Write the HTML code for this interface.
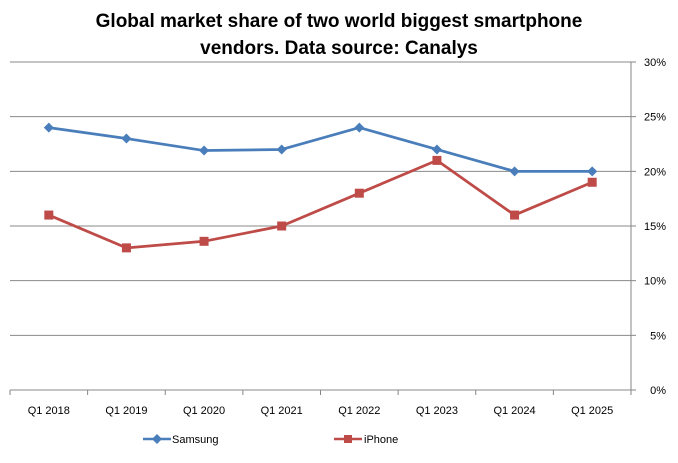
<!DOCTYPE html>
<html><head><meta charset="utf-8"><style>
body{margin:0;background:#fff;}
svg text{font-family:"Liberation Sans",sans-serif;}
</style></head><body>
<svg width="678" height="458">
<rect width="678" height="458" fill="#fff"/>
<text x="339" y="27" text-anchor="middle" font-size="19" font-weight="bold">Global market share of two world biggest smartphone</text>
<text x="339" y="54" text-anchor="middle" font-size="19" font-weight="bold">vendors. Data source: Canalys</text>
<g id="grid"></g><g id="axes"></g><g id="series"></g>
<g>
<line x1="143" y1="439" x2="171" y2="439" stroke="#4A7EBB" stroke-width="2.5"/>
<path d="M157 434 L162 439 L157 444 L152 439Z" fill="#4A7EBB"/>
<text x="172" y="443" font-size="11">Samsung</text>
<line x1="334" y1="439" x2="362" y2="439" stroke="#BE4B48" stroke-width="2.5"/>
<rect x="344" y="435" width="8" height="8" fill="#BE4B48"/>
<text x="364" y="443" font-size="11">iPhone</text>
</g>
</svg>
<script>
const categories=["Q1 2018","Q1 2019","Q1 2020","Q1 2021","Q1 2022","Q1 2023","Q1 2024","Q1 2025"];
const samsung=[24,23,21.9,22,24,22,20,20];
const iphone=[16,13,13.6,15,18,21,16,19];
const yTicks=[0,5,10,15,20,25,30];
const NS="http://www.w3.org/2000/svg";
const L=10,R=631,T=62,B=390;
const step=(R-L)/categories.length;
const x=i=>L+step*(i+0.5);
const y=v=>B-(v/30)*(B-T);
function mk(t,a,p){const e=document.createElementNS(NS,t);for(const k in a)e.setAttribute(k,a[k]);p.appendChild(e);return e;}
const grid=document.getElementById('grid'),axes=document.getElementById('axes'),ser=document.getElementById('series');
yTicks.forEach(v=>{
 const g=mk('line',{x1:L,x2:R,y1:y(v),y2:y(v),stroke:'#8a8a8a','stroke-width':1},grid);
 
 
 mk('line',{x1:R,x2:R+5,y1:y(v),y2:y(v),stroke:'#868686'},axes);
 const t=mk('text',{x:R+35,y:y(v)+4,'text-anchor':'end','font-size':11},axes);
 t.textContent=v+'%';
 
 
});
mk('line',{x1:R,x2:R,y1:T,y2:B,stroke:'#868686'},axes);
for(let i=0;i<=categories.length;i++)mk('line',{x1:L+step*i,x2:L+step*i,y1:B,y2:B+5,stroke:'#868686'},axes);
categories.forEach((c,i)=>{
 const t=mk('text',{x:x(i),y:B+24,'text-anchor':'middle','font-size':11},axes);
 t.textContent=c;
 
 
});
function line(vals,col,name,sq){
 const p=mk('polyline',{points:vals.map((v,i)=>x(i)+','+y(v)).join(' '),fill:'none',stroke:col,'stroke-width':2.75,'stroke-linejoin':'round'},ser);
 
 
 vals.forEach((v,i)=>{
  let m;
  if(sq)m=mk('rect',{x:x(i)-4.5,y:y(v)-4.5,width:9,height:9,fill:col},ser);
  else m=mk('path',{d:`M${x(i)} ${y(v)-5}L${x(i)+5} ${y(v)}L${x(i)} ${y(v)+5}L${x(i)-5} ${y(v)}Z`,fill:col},ser);
  
  
 });
}
line(samsung,'#4A7EBB','samsung',false);
line(iphone,'#BE4B48','iphone',true);
</script>
</body></html>
